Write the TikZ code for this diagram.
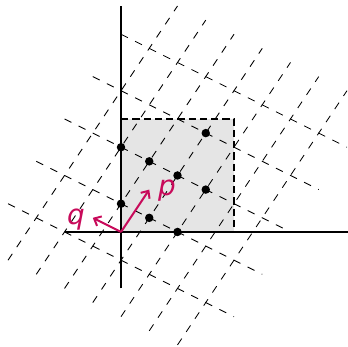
\documentclass[tikz,border=0pt]{standalone}
\usepackage{fontspec}
\usepackage{xcolor}
\usepackage{tikz}
\usetikzlibrary{arrows.meta}
\newfontfamily\etiquetafont{DejaVu Sans}
\definecolor{MagentaVec}{RGB}{200,10,90}
\definecolor{GrisCuadro}{RGB}{229,229,229}

\begin{document}
\begin{tikzpicture}[x=3cm,y=3cm,>={Straight Barb[length=4.5pt,width=8pt]},
  coords pq/.style={shift={(0cm,0.75cm)},x={(0.75cm,1.125cm)},y={(-0.75cm,0.375cm)}},
  reticula/.style={line width=0.65pt,dash pattern=on 5.8pt off 6.1pt},
  vector/.style={->,line width=1.5pt,MagentaVec},
  etiqueta/.style={MagentaVec,font=\etiquetafont\itshape\fontsize{21}{25}\selectfont}]
  \useasboundingbox (-1.071,-1.018) rectangle (2.009,2.053);
  \coordinate (O) at (0,0);
  \fill[GrisCuadro] (O) rectangle (1,1);

  % reticula generada por p y q, corrida a (0,1/4)
  \begin{scope}[coords pq]
    \foreach \n in {-4,...,2}
      \draw[reticula] (-2,\n) -- (4,\n);
    \foreach \m in {-1,...,3}
      \draw[reticula] (\m,3) -- (\m,-5);
  \end{scope}

  \draw[line width=1.5pt,dash pattern=on 5.5pt off 3pt] (0,1) -- (1,1) -- (1,0);
  \draw[line width=1.5pt] (-0.5,0) -- (2.02,0);
  \draw[line width=1.5pt] (0,-0.5) -- (0,2.0);

  % puntos de la reticula dentro del cuadrado
  \begin{scope}[coords pq]
    \foreach \m/\n in {0/0,0/-1,0/-2,1/1,1/0,1/-1,1/-2,2/-1}
      \fill (\m,\n) circle (3.2pt);
  \end{scope}

  \coordinate (P) at (0.25,0.375);
  \coordinate (Q) at (-0.25,0.125);
  \draw[vector] (O) -- (P);
  \draw[vector] (O) -- (Q);
  \node[etiqueta] (etqP) at (0.407,0.367) {p};
  \node[etiqueta] (etqQ) at (-0.398,0.106) {q};
\end{tikzpicture}
\end{document}
